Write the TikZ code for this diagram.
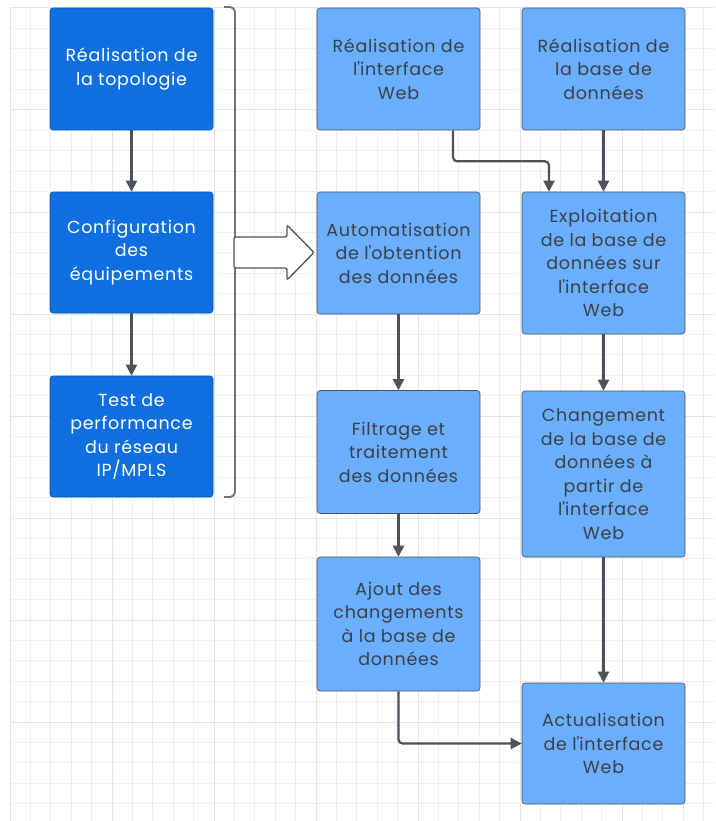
\documentclass[tikz,border=0pt]{standalone}
\usepackage{fontspec}
\setmainfont{Poppins}[LetterSpace=4]
\usepackage{xcolor}
\usetikzlibrary{arrows.meta}
\usetikzlibrary{calc}

\definecolor{darkbox}{HTML}{0F6FE0}
\definecolor{lightbox}{HTML}{6AAEFF}
\definecolor{linkgray}{HTML}{4E535A}
\definecolor{textgray}{HTML}{3B4047}
\definecolor{gridminor}{HTML}{EEEEEE}
\definecolor{gridmajor}{HTML}{E5E5E5}
\newcommand{\apos}{\textquotesingle}

\begin{document}
\begin{tikzpicture}[x=1pt,y=-1pt]
\tikzset{every box/.style={draw=linkgray, line width=0.6pt, rounded corners=3pt,
  minimum width=163pt, align=center, inner sep=0pt,
  font=\fontsize{17.5}{23.5}\selectfont}}
\tikzset{every box dark/.style={fill=darkbox, text=white, draw=darkbox!75!black}}
\tikzset{every box light/.style={fill=lightbox, text=textgray}}
\tikzset{link/.style={draw=linkgray, line width=2.2pt, -{Triangle[length=11pt,width=11pt]}}}

\useasboundingbox (0,0) rectangle (715,821);
\fill[white] (0,0) rectangle (715,821);

   \foreach \k in {0,...,34}
      \draw[gridminor, line width=1pt] (10+20.4*\k,8) -- (10+20.4*\k,821);
   \foreach \k in {0,...,39}
      \draw[gridminor, line width=1pt] (10,8+20.4*\k) -- (715,8+20.4*\k);
   \foreach \k in {0,...,6}
      \draw[gridmajor, line width=1pt] (10+102*\k,8) -- (10+102*\k,821);
   \foreach \k in {0,...,7}
      \draw[gridmajor, line width=1pt] (10,8+102*\k) -- (715,8+102*\k);

   \foreach \nm/\x/\y/\h/\kind/\txt in {%
     topo/131.5/69/122/dark/{Réalisation de\\la topologie},%
     config/131.5/252.5/121/dark/{Configuration\\des\\équipements},%
     test/131.5/436.5/121/dark/{Test de\\performance\\du réseau\\IP/MPLS},%
     web/398.5/69/122/light/{Réalisation de\\l\apos interface\\Web},%
     auto/398.5/253/122/light/{Automatisation\\de l\apos obtention\\des données},%
     filtre/398.5/452/123/light/{Filtrage et\\traitement\\des données},%
     ajout/398.5/624/134/light/{Ajout des\\changements\\à la base de\\données},%
     bdd/603.5/69/122/light/{Réalisation de\\la base de\\données},%
     exploit/603.5/263/142/light/{Exploitation\\de la base de\\données sur\\l\apos interface\\Web},%
     change/603.5/474/166/light/{Changement\\de la base de\\données à\\partir de\\l\apos interface\\Web},%
     actu/603.5/743.5/121/light/{Actualisation\\de l\apos interface\\Web}}
        \node[every box, every box \kind, minimum height=\h pt] (\nm) at (\x,\y) {\txt};

   \draw[link] (topo) -- (config);
   \draw[link] (config) -- (test);
   \draw[link] (auto) -- (filtre);
   \draw[link] (filtre) -- (ajout);
   \draw[link] (bdd) -- (exploit);
   \draw[link] (exploit) -- (change);
   \draw[link] (change) -- (actu);
   \draw[link, rounded corners=4pt] ([xshift=54.5pt]web.south) -- ++(0,31)
      -| ([xshift=-54.5pt]exploit.north);
   \draw[link, rounded corners=4pt] (ajout.south) |- (actu.west);

   % bracket and big arrow
   \draw[linkgray!80, line width=1.8pt, rounded corners=5pt]
      (224,7) -- (235,7) -- (235,497) -- (224,497);
   \draw[linkgray, fill=white, line width=1.3pt, rounded corners=2pt]
      (234,237) -- (287,237) -- (287,225) -- (314,252.5) -- (287,280)
      -- (287,268) -- (234,268) -- cycle;
\end{tikzpicture}
\end{document}
